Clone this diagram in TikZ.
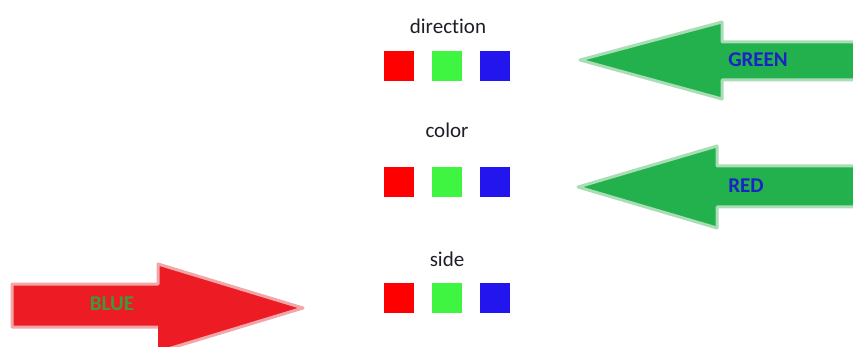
\documentclass[tikz,border=0pt]{standalone}
\usepackage{fontspec}
\setmainfont[Ligatures=NoCommon]{Carlito}
\definecolor{arrgreen}{HTML}{22B14C}
\definecolor{arrgreenb}{HTML}{A9DDB5}
\definecolor{arrred}{HTML}{ED1C24}
\definecolor{arrredb}{HTML}{F2A6A8}
\definecolor{sqred}{HTML}{FF0000}
\definecolor{sqgreen}{HTML}{40F542}
\definecolor{sqblue}{HTML}{2215EE}
\definecolor{txtblue}{HTML}{1A22C8}
\definecolor{txtgreen}{HTML}{3C9A3C}
\definecolor{lbl}{HTML}{1E1E28}
\begin{document}
\begin{tikzpicture}[x=1pt,y=-1pt,
  sq/.style={minimum size=30pt,inner sep=0pt,draw=none},
  lab/.style={font=\fontsize{21}{23}\selectfont,text=lbl,inner sep=0pt},
  arrtxt/.style={font=\bfseries\fontsize{21}{23}\selectfont,inner sep=0pt},
  garrow/.style={fill=arrgreen,draw=arrgreenb,line width=3pt,line join=round},
  rarrow/.style={fill=arrred,draw=arrredb,line width=3pt,line join=round}]
\useasboundingbox (0,0) rectangle (853,347);
% labels
\node[lab] (ldir) at (448,26) {direction};
\node[lab] (lcol) at (447,130) {color};
\node[lab] (lside) at (447,259) {side};
% squares
\foreach \r/\y in {d/66,c/182,s/298}{
  \node[sq,fill=sqred] (\r r) at (399,\y) {};
  \node[sq,fill=sqgreen] (\r g) at (447,\y) {};
  \node[sq,fill=sqblue] (\r b) at (495,\y) {};
}
% green arrow 1
\draw[garrow] (856,42) -- (722,42) -- (722,22) -- (580,60) -- (722,99) -- (722,80) -- (856,80);
\node[arrtxt,text=txtblue] (tgreen) at (758,60) {GREEN};
% green arrow 2
\draw[garrow] (856,166) -- (717,166) -- (717,146) -- (578,187) -- (717,228) -- (717,207) -- (856,207);
\node[arrtxt,text=txtblue] (tred) at (746,186) {RED};
% red arrow
\draw[rarrow] (158,327) -- (12,327) -- (12,284) -- (158,284) -- (158,264) -- (303,308) -- (158,352);
\node[arrtxt,text=txtgreen] (tblue) at (112,304) {BLUE};
\end{tikzpicture}
\end{document}
